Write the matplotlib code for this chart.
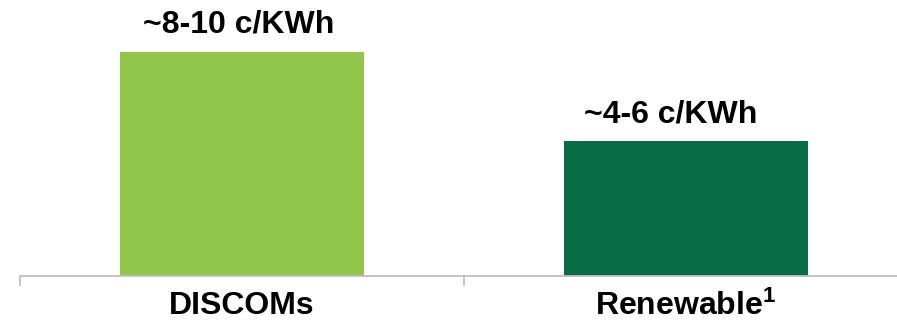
import matplotlib
matplotlib.use("Agg")
import matplotlib.pyplot as plt

# Cost of power by source
categories = ["DISCOMs", "Renewable$^{1}$"]
values = [10, 6]
value_labels = ["~8-10 c/KWh", "~4-6 c/KWh"]
colors = ["#92C64B", "#086C46"]

plt.rcParams["font.family"] = ["Liberation Sans", "DejaVu Sans"]
plt.rcParams["mathtext.fontset"] = "custom"
plt.rcParams["mathtext.rm"] = "Liberation Sans:bold"
plt.rcParams["mathtext.it"] = "Liberation Sans:bold"
plt.rcParams["mathtext.bf"] = "Liberation Sans:bold"
plt.rcParams["mathtext.default"] = "rm"

W, H = 897, 321
fig = plt.figure(figsize=(W / 100, H / 100), dpi=100)
ax = fig.add_axes([20 / W, (H - 275.5) / H, 888 / W, (275.5 - 52) / H])

x = list(range(len(categories)))
ax.bar(x, values, width=0.55, color=colors, zorder=2)

ax.set_xlim(-0.5, len(categories) - 0.5)
ax.set_ylim(0, max(values))

# category axis: gray baseline with separators between categories
for side in ("left", "right", "top"):
    ax.spines[side].set_visible(False)
ax.spines["bottom"].set_color("#BFBFBF")
ax.spines["bottom"].set_linewidth(1.3)
ax.set_yticks([])
ax.set_xticks(x)
ax.set_xticklabels(categories, fontsize=23, fontweight="bold")
ax.tick_params(axis="x", which="major", length=0, pad=11)
ax.set_xticks([i - 0.5 for i in range(len(categories) + 1)], minor=True)
ax.tick_params(axis="x", which="minor", length=7.5, width=1.3, color="#BFBFBF")

# value labels above bars
label_dx = [-2.5, -11]
for xi, v, lab, dx in zip(x, values, value_labels, label_dx):
    ax.annotate(lab, xy=(xi, v), xytext=(dx, 13.7), textcoords="offset points",
                ha="center", va="baseline", fontsize=23, fontweight="bold",
                annotation_clip=False)

fig.savefig("out.png", dpi=100)
